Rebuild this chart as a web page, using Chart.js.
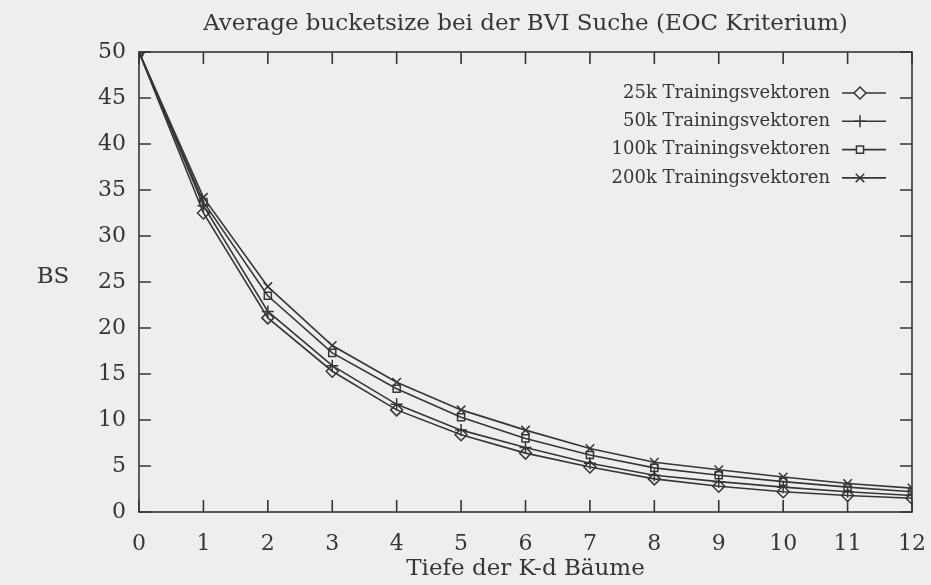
<!DOCTYPE html>
<html>
<head>
<meta charset="utf-8">
<script src="https://cdn.jsdelivr.net/npm/chart.js@4/dist/chart.umd.min.js"></script>
<style>
  html, body { margin: 0; padding: 0; background: #eeeeec; }
  canvas { display: block; }
</style>
</head>
<body>
<canvas id="grafico" width="931" height="585"></canvas>
<script>
const tiefe = [0, 1, 2, 3, 4, 5, 6, 7, 8, 9, 10, 11, 12];
const bs25k = [50, 32.5, 21.1, 15.3, 11.1, 8.4, 6.4, 4.9, 3.6, 2.8, 2.2, 1.8, 1.5];
const bs50k = [50, 33.3, 21.8, 15.9, 11.7, 8.9, 7.0, 5.3, 4.0, 3.3, 2.7, 2.2, 1.8];
const bs100k = [50, 33.7, 23.5, 17.3, 13.4, 10.3, 8.0, 6.2, 4.8, 4.0, 3.3, 2.7, 2.2];
const bs200k = [50, 34.2, 24.5, 18.1, 14.1, 11.1, 8.9, 6.9, 5.4, 4.6, 3.8, 3.1, 2.6];
const serien = ['25k Trainingsvektoren', '50k Trainingsvektoren', '100k Trainingsvektoren', '200k Trainingsvektoren'];
const symbole = ['rectRot', 'cross', 'rect', 'crossRot'];

const titel = 'Average bucketsize bei der BVI Suche (EOC Kriterium)';
const xTitel = 'Tiefe der K-d Bäume';
const yTitel = 'BS';

const farbe = '#363636';
const schrift = '"DejaVu Serif", serif';

function serie(i, werte) {
    return {
        label: serien[i],
        data: tiefe.map((x, k) => ({ x: x, y: werte[k] })),
        borderColor: farbe,
        borderWidth: 1.6,
        pointStyle: symbole[i],
        pointRadius: symbole[i] === 'rect' ? 5 : 6,
        pointBorderWidth: 1.5,
        pointBorderColor: farbe,
        pointBackgroundColor: 'rgba(0,0,0,0)',
        tension: 0
    };
}

// Rahmen, Ticks nach innen, Texte und Legende wie bei gnuplot
const gnuplotStil = {
    id: 'gnuplotStil',
    afterDraw(chart) {
        const ctx = chart.ctx;
        const a = chart.chartArea;
        const sx = chart.scales.x, sy = chart.scales.y;
        const len = 12;
        ctx.save();
        ctx.strokeStyle = farbe;
        ctx.lineWidth = 1.6;
        ctx.strokeRect(a.left, a.top, a.right - a.left, a.bottom - a.top);
        ctx.beginPath();
        sx.ticks.forEach(t => {
            const p = sx.getPixelForValue(t.value);
            ctx.moveTo(p, a.bottom); ctx.lineTo(p, a.bottom - len);
            ctx.moveTo(p, a.top); ctx.lineTo(p, a.top + len);
        });
        sy.ticks.forEach(t => {
            const p = sy.getPixelForValue(t.value);
            ctx.moveTo(a.left, p); ctx.lineTo(a.left + len, p);
            ctx.moveTo(a.right, p); ctx.lineTo(a.right - len, p);
        });
        ctx.stroke();

        ctx.fillStyle = farbe;
        ctx.textAlign = 'center';
        ctx.textBaseline = 'alphabetic';
        ctx.font = '23px ' + schrift;
        ctx.fillText(titel, (a.left + a.right) / 2, 30);
        ctx.fillText(xTitel, (a.left + a.right) / 2, 575);
        ctx.textBaseline = 'middle';
        ctx.fillText(yTitel, 53, 277);

        // Legende
        ctx.font = '18px ' + schrift;
        ctx.textAlign = 'right';
        chart.data.datasets.forEach((ds, i) => {
            const y = 93 + i * 28.3;
            ctx.fillStyle = farbe;
            ctx.fillText(ds.label, 830, y);
            ctx.beginPath();
            ctx.lineWidth = 1.6;
            ctx.moveTo(842, y); ctx.lineTo(886, y);
            ctx.stroke();
            ctx.lineWidth = 1.5;
            ctx.fillStyle = '#eeeeec';
            Chart.helpers.drawPoint(ctx, {
                pointStyle: ds.pointStyle,
                radius: ds.pointRadius,
                rotation: 0,
                borderWidth: 1.5
            }, 860, y);
        });
        ctx.restore();
    }
};

new Chart(document.getElementById('grafico'), {
    type: 'line',
    data: {
        datasets: [
            serie(0, bs25k),
            serie(1, bs50k),
            serie(2, bs100k),
            serie(3, bs200k)
        ]
    },
    options: {
        responsive: false,
        animation: false,
        devicePixelRatio: 1,
        layout: { padding: { left: 0, right: 19, top: 52, bottom: 0 } },
        plugins: {
            legend: { display: false },
            title: { display: false },
            tooltip: { enabled: false }
        },
        scales: {
            x: {
                type: 'linear',
                min: 0,
                max: 12,
                ticks: { stepSize: 1, color: farbe, font: { family: schrift, size: 22 }, padding: 19 },
                grid: { display: false, drawTicks: false },
                border: { display: false },
                afterFit: axis => { axis.height = 73; axis.paddingLeft = 0; axis.paddingRight = 0; }
            },
            y: {
                min: 0,
                max: 50,
                ticks: { stepSize: 5, color: farbe, font: { family: schrift, size: 22 }, padding: 13 },
                grid: { display: false, drawTicks: false },
                border: { display: false },
                afterFit: axis => { axis.width = 139; axis.paddingTop = 0; axis.paddingBottom = 0; }
            }
        }
    },
    plugins: [gnuplotStil]
});
</script>
</body>
</html>
